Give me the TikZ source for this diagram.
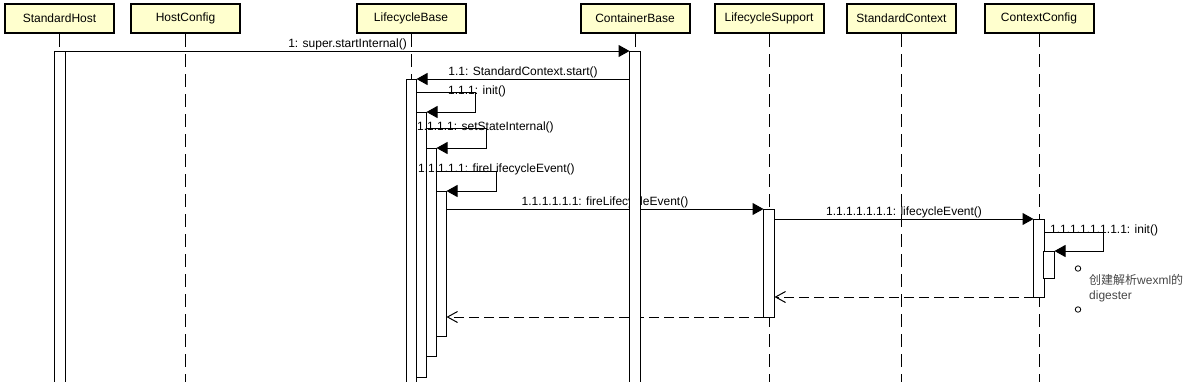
\documentclass[tikz,border=0pt]{standalone}
\usepackage{fontspec}
\setmainfont{Liberation Sans}
\newfontfamily\cjk{Noto Sans CJK SC}
\usetikzlibrary{arrows.meta}
\definecolor{boxfill}{RGB}{255,255,206}
\definecolor{notegray}{RGB}{70,70,70}
\begin{document}
\begin{tikzpicture}[x=1pt,y=-1pt, font=\fontsize{12}{14}\selectfont,
  part/.style={draw=black, line width=2pt, fill=boxfill, minimum width=109pt, minimum height=29pt, inner sep=0pt},
  lifeline/.style={line width=1pt, dash pattern=on 13pt off 7pt},
  act/.style={draw=black, fill=white, line width=1pt, minimum width=10pt, inner sep=0pt, anchor=north},
  msg/.style={line width=1pt, -{Triangle[length=11pt,width=12pt]}},
  ret/.style={line width=1pt, dash pattern=on 10pt off 5pt, -{Straight Barb[length=10pt,width=11pt]}},
  lbl/.style={anchor=base, yshift=4pt, inner sep=0pt},
  slbl/.style={anchor=base west, inner sep=0pt},
  dot/.style={circle, draw=black, line width=0.8pt, minimum size=5.5pt, inner sep=0pt},
  notetxt/.style={anchor=base west, inner sep=0pt, text=notegray},
]
\useasboundingbox (0,0) rectangle (1195,381);
\coordinate (bot) at (0,385);

% participants
\node[part] (pSH) at (59.5,18.5) {StandardHost};
\node[part] (pHC) at (185.5,18.5) {HostConfig};
\node[part] (pLB) at (411,18.5) {LifecycleBase};
\node[part] (pCB) at (635,18.5) {ContainerBase};
\node[part] (pLS) at (769,18.5) {LifecycleSupport};
\node[part] (pSC) at (901.5,18.5) {StandardContext};
\node[part] (pCC) at (1039,18.5) {ContextConfig};

% lifelines
\foreach \p in {pSH,pHC,pLB,pCB,pLS,pSC,pCC}
  \draw[lifeline] (\p.south) -- (\p.south |- bot);

% LifecycleBase activations
\node[act, minimum height=311pt] (aLB1) at (411,79) {};
\node[act, minimum height=265pt] (aLB2) at (421,112) {};
\node[act, minimum height=208pt] (aLB3) at (431,148) {};
\node[act, minimum height=145pt] (aLB4) at (441,191) {};

% other activations (declared as nodes; drawn later on top)
\path (60,51) node[act, minimum height=339pt, draw=none, fill=none] (aSH) {};
\path (635,51) node[act, minimum height=339pt, draw=none, fill=none] (aCB) {};
\path (769,209) node[act, minimum height=107pt, draw=none, fill=none] (aLS) {};
\path (1039,219) node[act, minimum height=77pt, draw=none, fill=none] (aCC1) {};
\path (1049,251) node[act, minimum height=26pt, draw=none, fill=none] (aCC2) {};

% self-call start points
\coordinate (s1) at (416,92);
\coordinate (s2) at (426,128);
\coordinate (s3) at (436,171);
\coordinate (s4) at (1044,232);

% messages
\draw[msg] (aSH.north east) -- (aCB.north west) node[lbl,midway] {1: super.startInternal()};
\draw[msg] (aCB.west |- aLB1.north) -- (aLB1.north east) node[lbl,midway] {1.1: StandardContext.start()};

\draw[msg] (s1) -- ++(59,0) |- (aLB2.north east);
\node[slbl] (l1) at (448,94) {1.1.1: init()};
\draw[msg] (s2) -- ++(60,0) |- (aLB3.north east);
\node[slbl] (l2) at (417,130) {1.1.1.1: setStateInternal()};
\draw[msg] (s3) -- ++(60,0) |- (aLB4.north east);
\node[slbl] (l3) at (418,172.5) {1.1.1.1.1: fireLifecycleEvent()};

\draw[msg] (aLB4.east |- aLS.north) -- (aLS.north west) node[lbl,midway] {1.1.1.1.1.1: fireLifecycleEvent()};
\draw[msg] (aLS.east |- aCC1.north) -- (aCC1.north west) node[lbl,midway] {1.1.1.1.1.1.1: lifecycleEvent()};

\draw[msg] (s4) -- ++(59,0) |- (aCC2.north east);
\node[slbl] (l4) at (1050,233.5) {1.1.1.1.1.1.1.1: init()};

\draw[ret] (aCC1.south west) -- (aLS.east |- aCC1.south);
\draw[ret] (aLS.south west) -- (aLB4.east |- aLS.south);

% activations on top
\foreach \a in {aSH,aCB,aLS,aCC1,aCC2}
  \draw[fill=white, line width=1pt] (\a.north west) rectangle (\a.south east);

% note
\node[dot] (c1) at (1078,268.5) {};
\node[dot] (c2) at (1078,309.5) {};
\node[notetxt] (n1) at (1089,284.5) {{\cjk 创建解析}wexml{\cjk 的}};
\node[notetxt] (n2) at (1089,299) {digester};
\end{tikzpicture}
\end{document}
